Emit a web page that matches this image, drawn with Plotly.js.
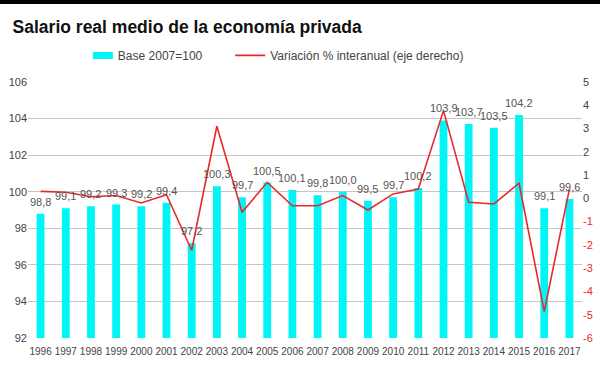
<!DOCTYPE html>
<html>
<head>
<meta charset="utf-8">
<script src="https://cdn.plot.ly/plotly-3.0.1.min.js"></script>
<style>
  html, body { margin: 0; padding: 0; background: #fff; }
  #wrap { position: relative; width: 600px; height: 365px; }
  #topbar { position: absolute; left: 0; top: 0; width: 600px; height: 4px; background: #000; z-index: 10; }
  #chart { width: 600px; height: 365px; }
</style>
</head>
<body>
<div id="wrap">
  <div id="topbar"></div>
  <div id="chart"></div>
</div>
<script>
const years = ["1996","1997","1998","1999","2000","2001","2002","2003","2004","2005","2006","2007","2008","2009","2010","2011","2012","2013","2014","2015","2016","2017"];
const indexBase2007 = [98.8, 99.1, 99.2, 99.3, 99.2, 99.4, 97.2, 100.3, 99.7, 100.5, 100.1, 99.8, 100.0, 99.5, 99.7, 100.2, 103.9, 103.7, 103.5, 104.2, 99.1, 99.6];
const variacion = [0.30, 0.26, 0.07, 0.12, -0.20, 0.16, -2.23, 3.10, -0.60, 0.69, -0.32, -0.32, 0.12, -0.50, 0.19, 0.40, 3.77, -0.17, -0.24, 0.65, -4.86, 0.40];
const leftTicks = [92, 94, 96, 98, 100, 102, 104, 106];
const rightTicks = [-6, -5, -4, -3, -2, -1, 0, 1, 2, 3, 4, 5];

const FONT = "Liberation Sans, Arial, sans-serif";
const GREY = "#444444";
const RED = "#e8292c";
const CYAN = "#00f6f6";

const rightText = rightTicks.map(v => v < 0
  ? '<span style="color:' + RED + '">' + v + '</span>'
  : String(v));

// annotations on a category axis: use the category index
const labelAnn = years.map((y, i) => ({
  x: i, y: indexBase2007[i], xref: 'x', yref: 'y',
  text: indexBase2007[i].toFixed(1).replace('.', ','),
  showarrow: false, yanchor: 'bottom', yshift: 4,
  font: {family: FONT, size: 11, color: '#555555'}
}));

const traces = [
  {
    type: 'bar', x: years, y: indexBase2007, name: 'Base 2007=100',
    marker: {color: CYAN}, yaxis: 'y', legend: 'legend'
  },
  {
    type: 'scatter', mode: 'lines', x: years, y: variacion,
    name: 'Variación % interanual (eje derecho)',
    line: {color: RED, width: 1.6}, yaxis: 'y2', legend: 'legend2'
  }
];

const legendBase = {
  orientation: 'h', xanchor: 'left', y: 1.104, yanchor: 'middle',
  font: {family: FONT, size: 12, color: GREY},
  bgcolor: 'rgba(0,0,0,0)'
};

const layout = {
  width: 600, height: 365,
  margin: {l: 28, r: 18, t: 82, b: 27},
  paper_bgcolor: '#ffffff', plot_bgcolor: '#ffffff',
  font: {family: FONT, color: GREY, size: 11},
  title: {
    text: '<b>Salario real medio de la economía privada</b>',
    xref: 'container', yref: 'container',
    x: 0.021, xanchor: 'left', y: 0.926, yanchor: 'middle',
    font: {family: FONT, size: 17.5, color: '#111111'}
  },
  bargap: 0.69,
  showlegend: true,
  legend: Object.assign({}, legendBase, {x: 0.09}),
  legend2: Object.assign({}, legendBase, {x: 0.365}),
  xaxis: {
    type: 'category', range: [-0.5, years.length - 0.5],
    showgrid: false, zeroline: false, showline: false,
    ticks: '', ticklabelstandoff: 6,
    tickfont: {family: FONT, size: 10, color: GREY}
  },
  yaxis: {
    range: [92, 106], tickvals: leftTicks, showgrid: true,
    gridcolor: '#c6c6c6', gridwidth: 1, zeroline: false, showline: false,
    ticks: '', tickfont: {family: FONT, size: 11, color: GREY}
  },
  yaxis2: {
    overlaying: 'y', side: 'right', range: [-6, 5],
    tickvals: rightTicks, ticktext: rightText,
    showgrid: false, zeroline: false, showline: false, ticks: '',
    tickfont: {family: FONT, size: 11, color: GREY}
  },
  annotations: labelAnn
};

Plotly.newPlot('chart', traces, layout, {displayModeBar: false, staticPlot: true}).then(gd => {
  // widen the bar legend swatch into a flat rectangle like the reference
  gd.querySelectorAll('.legend .legendpoints path.legendundefined, .legend .legendbar path').forEach(p => {
    p.setAttribute('d', 'M15,3.5H-5V-3.5H15Z');
  });
});
</script>
</body>
</html>
